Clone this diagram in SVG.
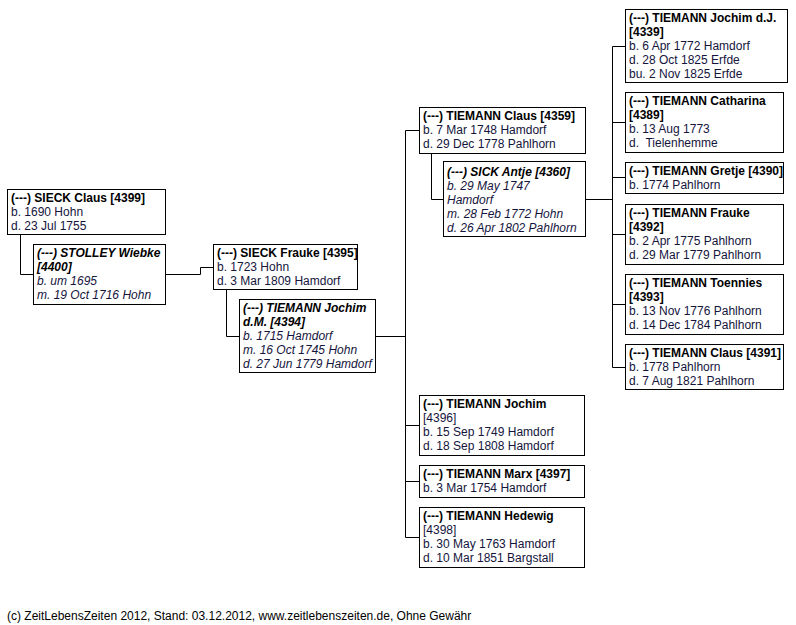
<svg xmlns="http://www.w3.org/2000/svg" width="796" height="625" viewBox="0 0 796 625">
<style>
text{font-family:"Liberation Sans",Arial,sans-serif;font-size:12px;fill:#14143c}
.b{font-weight:bold;fill:#000}
.i{font-style:italic}
rect{fill:#fff;stroke:#000;stroke-width:1}
.c path{fill:none;stroke:#000;stroke-width:1}
</style>
<rect x="0" y="0" width="796" height="625" style="stroke:none"/>
<g class="c" id="connectors">
<path d="M20.5,234 V274.5 H33"/>
<path d="M165,274.5 H200.5 V267.5 H213"/>
<path d="M226.5,289 V336.5 H239"/>
<path d="M375,336.5 H405.5"/>
<path d="M405.5,130.5 V537.5"/>
<path d="M405.5,130.5 H419"/>
<path d="M405.5,425.5 H419"/>
<path d="M405.5,481.5 H419"/>
<path d="M405.5,537.5 H419"/>
<path d="M431.5,153 V199.5 H443"/>
<path d="M585,199.5 H612.5"/>
<path d="M612.5,46.5 V367.5"/>
<path d="M612.5,46.5 H625"/>
<path d="M612.5,122.5 H625"/>
<path d="M612.5,177.5 H625"/>
<path d="M612.5,234.5 H625"/>
<path d="M612.5,304.5 H625"/>
<path d="M612.5,367.5 H625"/>
</g>
<g id="n4399"><rect x="7.5" y="189.5" width="158" height="45"/>
<text x="11" y="202" class="b">(---) SIECK Claus [4399]</text><text x="11" y="216">b. 1690 Hohn</text><text x="11" y="230">d. 23 Jul 1755</text></g>
<g id="n4400" class="i"><rect x="33.5" y="244.5" width="132" height="60"/>
<text x="37" y="257" class="b i">(---) STOLLEY Wiebke</text><text x="37" y="271" class="b i">[4400]</text><text x="37" y="285" class="i">b. um 1695</text><text x="37" y="299" class="i">m. 19 Oct 1716 Hohn</text></g>
<g id="n4395"><rect x="213.5" y="244.5" width="144" height="45"/>
<text x="217" y="257" class="b">(---) SIECK Frauke [4395]</text><text x="217" y="271">b. 1723 Hohn</text><text x="217" y="285">d. 3 Mar 1809 Hamdorf</text></g>
<g id="n4394"><rect x="239.5" y="299.5" width="136" height="73"/>
<text x="243" y="312" class="b i">(---) TIEMANN Jochim</text><text x="243" y="326" class="b i">d.M. [4394]</text><text x="243" y="340" class="i">b. 1715 Hamdorf</text><text x="243" y="354" class="i">m. 16 Oct 1745 Hohn</text><text x="243" y="368" class="i">d. 27 Jun 1779 Hamdorf</text></g>
<g id="n4359"><rect x="419.5" y="107.5" width="166" height="46"/>
<text x="423" y="120" class="b">(---) TIEMANN Claus [4359]</text><text x="423" y="134">b. 7 Mar 1748 Hamdorf</text><text x="423" y="148">d. 29 Dec 1778 Pahlhorn</text></g>
<g id="n4360"><rect x="443.5" y="161.5" width="142" height="75"/>
<text x="447" y="176" class="b i">(---) SICK Antje [4360]</text><text x="447" y="190" class="i">b. 29 May 1747</text><text x="447" y="204" class="i">Hamdorf</text><text x="447" y="218" class="i">m. 28 Feb 1772 Hohn</text><text x="447" y="232" class="i">d. 26 Apr 1802 Pahlhorn</text></g>
<g id="n4396"><rect x="419.5" y="395.5" width="165" height="60"/>
<text x="423" y="408" class="b">(---) TIEMANN Jochim</text><text x="423" y="422">[4396]</text><text x="423" y="436">b. 15 Sep 1749 Hamdorf</text><text x="423" y="450">d. 18 Sep 1808 Hamdorf</text></g>
<g id="n4397"><rect x="419.5" y="465.5" width="165" height="32"/>
<text x="423" y="478" class="b">(---) TIEMANN Marx [4397]</text><text x="423" y="492">b. 3 Mar 1754 Hamdorf</text></g>
<g id="n4398"><rect x="419.5" y="507.5" width="165" height="60"/>
<text x="423" y="520" class="b">(---) TIEMANN Hedewig</text><text x="423" y="534">[4398]</text><text x="423" y="548">b. 30 May 1763 Hamdorf</text><text x="423" y="562">d. 10 Mar 1851 Bargstall</text></g>
<g id="n4339"><rect x="625.5" y="9.5" width="162" height="73"/>
<text x="629" y="22" class="b">(---) TIEMANN Jochim d.J.</text><text x="629" y="36" class="b">[4339]</text><text x="629" y="50">b. 6 Apr 1772 Hamdorf</text><text x="629" y="64">d. 28 Oct 1825 Erfde</text><text x="629" y="78">bu. 2 Nov 1825 Erfde</text></g>
<g id="n4389"><rect x="625.5" y="92.5" width="158" height="60"/>
<text x="629" y="105" class="b">(---) TIEMANN Catharina</text><text x="629" y="119" class="b">[4389]</text><text x="629" y="133">b. 13 Aug 1773</text><text x="629" y="147" xml:space="preserve">d.  Tielenhemme</text></g>
<g id="n4390"><rect x="625.5" y="162.5" width="158" height="31"/>
<text x="629" y="175" class="b">(---) TIEMANN Gretje [4390]</text><text x="629" y="189">b. 1774 Pahlhorn</text></g>
<g id="n4392"><rect x="625.5" y="204.5" width="158" height="60"/>
<text x="629" y="217" class="b">(---) TIEMANN Frauke</text><text x="629" y="231" class="b">[4392]</text><text x="629" y="245">b. 2 Apr 1775 Pahlhorn</text><text x="629" y="259">d. 29 Mar 1779 Pahlhorn</text></g>
<g id="n4393"><rect x="625.5" y="274.5" width="158" height="60"/>
<text x="629" y="287" class="b">(---) TIEMANN Toennies</text><text x="629" y="301" class="b">[4393]</text><text x="629" y="315">b. 13 Nov 1776 Pahlhorn</text><text x="629" y="329">d. 14 Dec 1784 Pahlhorn</text></g>
<g id="n4391"><rect x="625.5" y="344.5" width="158" height="45"/>
<text x="629" y="357" class="b">(---) TIEMANN Claus [4391]</text><text x="629" y="371">b. 1778 Pahlhorn</text><text x="629" y="385">d. 7 Aug 1821 Pahlhorn</text></g>
<text x="7" y="620" style="fill:#000">(c) ZeitLebensZeiten 2012, Stand: 03.12.2012, www.zeitlebenszeiten.de, Ohne Gewähr</text>
</svg>
